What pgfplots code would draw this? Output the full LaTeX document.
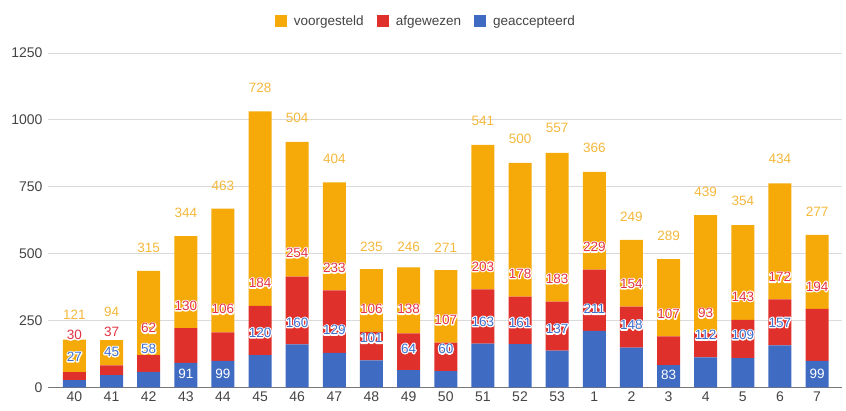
\documentclass[border=0pt]{standalone}
\usepackage{pgfplots}
\pgfplotsset{compat=1.18}
\usepackage{pgfplotstable}
\usepackage{fontspec}
\setmainfont{Liberation Sans}
\newcommand\halo[1]{\leavevmode\rlap{\special{pdf:code 1 Tr 1 1 1 RG 2.4 w 1 j}#1\special{pdf:code 0 Tr}}#1}
\definecolor{cblue}{HTML}{3F6BC2}
\definecolor{cred}{HTML}{E0302B}
\definecolor{corange}{HTML}{F5AA0A}
\definecolor{lblue}{HTML}{3E6FCC}
\definecolor{lred}{HTML}{E33345}
\definecolor{lorange}{HTML}{F4B83C}
\definecolor{tickgray}{HTML}{444444}
\definecolor{gridgray}{HTML}{DADADA}
\definecolor{zerogray}{HTML}{777777}

\pgfplotstableread{
x acc afg voor
0 27 30 121
1 45 37 94
2 58 62 315
3 91 130 344
4 99 106 463
5 120 184 728
6 160 254 504
7 129 233 404
8 101 106 235
9 64 138 246
10 60 107 271
11 163 203 541
12 161 178 500
13 137 183 557
14 211 229 366
15 148 154 249
16 83 107 289
17 112 93 439
18 109 143 354
19 157 172 434
20 99 194 277
}\data

\pgfplotstableread{
x y lab
0 114 27
1 133 45
2 144 58
5 204 120
6 242 160
7 214 129
8 183 101
9 145 64
10 143 60
11 246 163
12 242 161
13 218 137
14 292 211
15 233 148
17 196 112
18 196 109
19 242 157
}\bluelab

\pgfplotstableread{
x y lab
3 49 91
4 51 99
16 45 83
20 51 99
}\bluein

\pgfplotstableread{
x y lab
0 196 30
1 208 37
2 221 62
3 305 130
4 292 106
5 390 184
6 503 254
7 446 233
8 292 106
9 292 138
10 252 107
11 452 203
12 425 178
13 406 183
14 525 229
15 387 154
16 274 107
17 277 93
18 340 143
19 412 172
20 377 194
}\redlab

\pgfplotstableread{
x y lab
0 271 121
1 283 94
2 521 315
3 653 344
4 753 463
5 1119 728
6 1008 504
7 856 404
8 527 235
9 527 246
10 521 271
11 998 541
12 929 500
13 969 557
14 895 366
15 638 249
16 565 289
17 731 439
18 697 354
19 853 434
20 655 277
}\orangelab

\pgfplotsset{
  common/.style={
    scale only axis,
    width=793.4pt, height=334pt,
    xmin=-0.71, xmax=20.67,
    ymin=0, ymax=1250,
    clip=false,
  },
  lab/.style={
    only marks, mark=none,
    point meta=explicit symbolic,
    every node near coord/.append style={anchor=center, font=\fontsize{13.5}{14}\selectfont},
  },
}

\begin{document}
\begin{tikzpicture}
\begin{axis}[
  common,
  ybar stacked,
  bar width=23pt,
  xtick=data,
  xticklabels={40,41,42,43,44,45,46,47,48,49,50,51,52,53,1,2,3,4,5,6,7},
  ytick={0,250,500,750,1000,1250},
  /pgf/number format/1000 sep={},
  /pgf/number format/assume math mode=true,
  ymajorgrids,
  major grid style={draw=gridgray, line width=1pt},
  axis x line*=bottom,
  axis y line*=left,
  x axis line style={draw=zerogray, line width=1.2pt},
  y axis line style={draw=none},
  tick style={draw=none},
  major tick length=0pt,
  ticklabel style={font=\fontsize{14}{14}\selectfont, text=tickgray},
  yticklabel style={xshift=-2pt},
  xticklabel style={yshift=-1pt},
  reverse legend,
  legend columns=-1,
  legend style={at={(0.476,1)}, anchor=center, yshift=32pt, draw=none,
    font=\fontsize{13.5}{14}\selectfont, text=tickgray,
    /tikz/every even column/.append style={column sep=11pt}},
  legend image code/.code={\fill[#1] (0pt,-6pt) rectangle (12pt,6pt); \path (17pt,0pt);},
]
\addplot[fill=cblue, draw=none] table[x=x,y=acc]{\data};
\addlegendentry{geaccepteerd}
\addplot[fill=cred, draw=none] table[x=x,y=afg]{\data};
\addlegendentry{afgewezen}
\addplot[fill=corange, draw=none] table[x=x,y=voor]{\data};
\addlegendentry{voorgesteld}
\end{axis}
\begin{axis}[common, hide axis]
\addplot[lab, nodes near coords={\halo{\pgfplotspointmeta}},
  every node near coord/.append style={text=lblue}] table[x=x,y=y,meta=lab]{\bluelab};
\addplot[lab, nodes near coords={\pgfplotspointmeta},
  every node near coord/.append style={text=white}] table[x=x,y=y,meta=lab]{\bluein};
\addplot[lab, nodes near coords={\halo{\pgfplotspointmeta}},
  every node near coord/.append style={text=lred}] table[x=x,y=y,meta=lab]{\redlab};
\addplot[lab, nodes near coords={\pgfplotspointmeta},
  every node near coord/.append style={text=lorange}] table[x=x,y=y,meta=lab]{\orangelab};
\end{axis}
\pgfresetboundingbox
\path ([xshift=-48pt,yshift=-23pt]current axis.south west) rectangle ([xshift=4pt,yshift=53pt]current axis.north east);
\end{tikzpicture}
\end{document}
